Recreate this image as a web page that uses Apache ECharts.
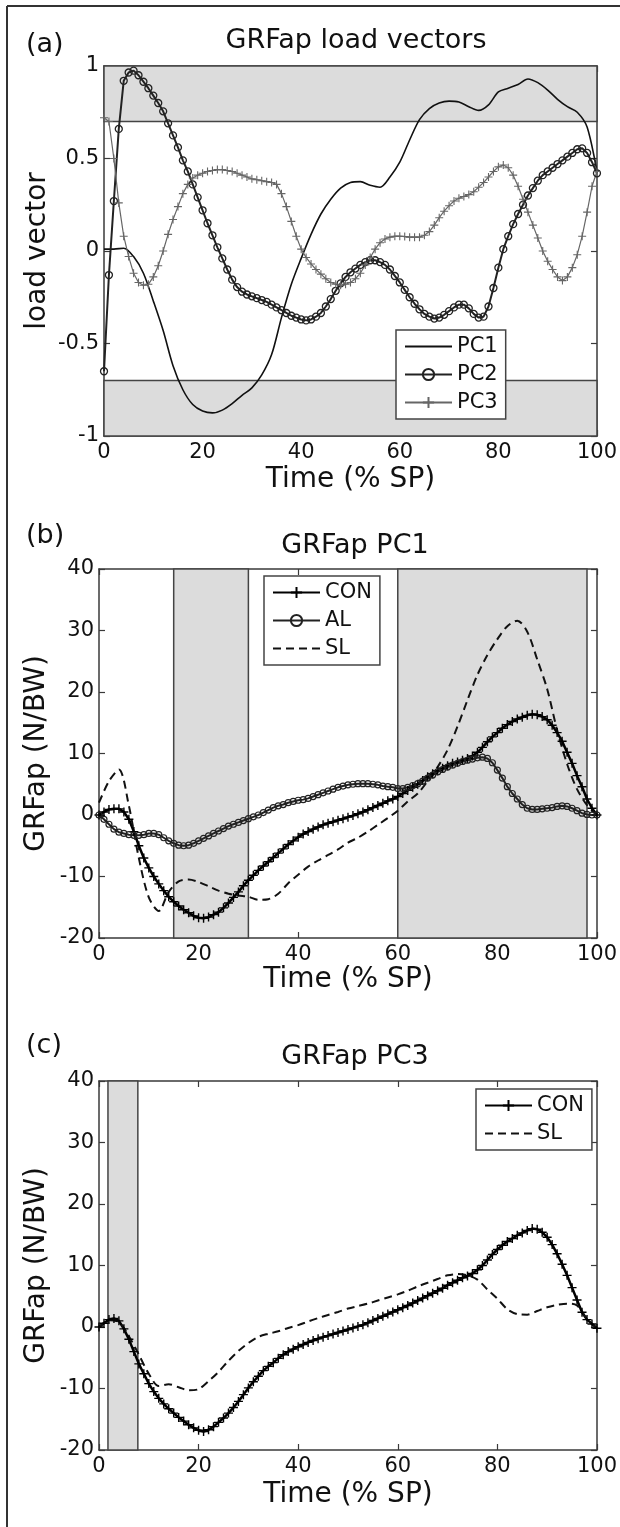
<!DOCTYPE html>
<html>
<head>
<meta charset="utf-8">
<script src="https://cdn.jsdelivr.net/npm/echarts@6/dist/echarts.min.js"></script>
<style>
  html, body { margin: 0; padding: 0; background: #fff; }
  #main { width: 620px; height: 1527px; }
</style>
</head>
<body>
<div id="main"></div>
<script>
// ---- data ----
// sample grids (% of stance phase)
var time1 = [];
for (var i = 0; i <= 100; i++) time1.push(i);
var time2 = [];
for (var j = 0; j <= 100; j += 2) time2.push(j);

// (a) load vectors
var pc1 = [0.01, 0.01, 0.015, -0.03, -0.12, -0.27, -0.43, -0.62, -0.75, -0.83,
  -0.865, -0.875, -0.86, -0.825, -0.78, -0.74, -0.67, -0.56, -0.36, -0.18,
  -0.04, 0.09, 0.2, 0.28, 0.34, 0.37, 0.375, 0.355, 0.345, 0.40,
  0.48, 0.60, 0.71, 0.77, 0.80, 0.81, 0.805, 0.78, 0.76, 0.79,
  0.86, 0.88, 0.90, 0.93, 0.91, 0.87, 0.82, 0.78, 0.75, 0.67, 0.43];
var pc2 = [-0.65, -0.13, 0.27, 0.66, 0.92, 0.965, 0.975, 0.95, 0.915, 0.88,
  0.84, 0.80, 0.755, 0.69, 0.625, 0.56, 0.49, 0.43, 0.36, 0.29,
  0.22, 0.15, 0.085, 0.02, -0.04, -0.10, -0.155, -0.195, -0.22, -0.235,
  -0.245, -0.255, -0.265, -0.275, -0.29, -0.305, -0.32, -0.335, -0.35, -0.36,
  -0.37, -0.375, -0.37, -0.355, -0.335, -0.30, -0.26, -0.215, -0.175, -0.14,
  -0.115, -0.095, -0.075, -0.06, -0.05, -0.05, -0.06, -0.075, -0.10, -0.135,
  -0.17, -0.21, -0.25, -0.285, -0.315, -0.34, -0.355, -0.365, -0.36, -0.345,
  -0.325, -0.305, -0.29, -0.29, -0.31, -0.34, -0.36, -0.355, -0.30, -0.20,
  -0.09, 0.01, 0.08, 0.145, 0.20, 0.25, 0.30, 0.34, 0.38, 0.41,
  0.43, 0.45, 0.47, 0.49, 0.51, 0.53, 0.55, 0.555, 0.53, 0.48, 0.42];
var pc3 = [0.72, 0.70, 0.50, 0.26, 0.08, -0.03, -0.12, -0.17, -0.185, -0.18,
  -0.14, -0.08, 0.0, 0.09, 0.17, 0.24, 0.31, 0.36, 0.395, 0.41,
  0.42, 0.43, 0.435, 0.44, 0.44, 0.435, 0.43, 0.42, 0.41, 0.40,
  0.39, 0.385, 0.38, 0.375, 0.37, 0.36, 0.31, 0.24, 0.16, 0.08,
  0.01, -0.035, -0.07, -0.10, -0.125, -0.15, -0.17, -0.18, -0.185, -0.18,
  -0.17, -0.15, -0.12, -0.075, -0.035, 0.01, 0.045, 0.065, 0.075, 0.08,
  0.08, 0.078, 0.075, 0.075, 0.075, 0.085, 0.105, 0.14, 0.18, 0.215,
  0.245, 0.27, 0.285, 0.295, 0.305, 0.32, 0.345, 0.37, 0.40, 0.43,
  0.455, 0.465, 0.45, 0.41, 0.35, 0.28, 0.21, 0.14, 0.07, 0.0,
  -0.055, -0.10, -0.14, -0.16, -0.14, -0.09, -0.02, 0.08, 0.21, 0.35, 0.43];
var bandsA = [[0.7, 1], [-1, -0.7]];

// (b) PC1 reconstructions
var conB = [0.0, 0.5, 0.9, 1.0, 1.0, 0.5, -0.7, -2.7, -5.0, -7.0,
  -8.6, -10.0, -11.2, -12.3, -13.3, -14.1, -14.8, -15.4, -15.9, -16.4,
  -16.7, -16.8, -16.6, -16.2, -15.8, -15.1, -14.3, -13.4, -12.5, -11.5,
  -10.6, -9.8, -9.0, -8.3, -7.6, -6.9, -6.2, -5.5, -4.8, -4.2,
  -3.6, -3.1, -2.7, -2.3, -1.95, -1.6, -1.35, -1.1, -0.85, -0.6,
  -0.35, -0.1, 0.2, 0.5, 0.85, 1.2, 1.55, 1.9, 2.3, 2.6,
  3.0, 3.5, 4.0, 4.5, 5.0, 5.6, 6.2, 6.7, 7.2, 7.6,
  8.0, 8.4, 8.6, 8.9, 9.2, 9.6, 10.2, 11.0, 11.9, 12.7,
  13.4, 14.1, 14.7, 15.2, 15.6, 15.9, 16.2, 16.4, 16.3, 16.0,
  15.5, 14.6, 13.4, 12.0, 10.2, 8.4, 6.4, 4.6, 2.6, 1.1, 0.0];
var alB = [0.0, -0.7, -1.5, -2.3, -2.8, -3.0, -3.2, -3.3, -3.3, -3.2,
  -3.0, -3.0, -3.2, -3.7, -4.2, -4.6, -4.9, -5.0, -4.9, -4.6,
  -4.2, -3.8, -3.4, -3.0, -2.6, -2.2, -1.8, -1.5, -1.2, -0.9,
  -0.6, -0.3, 0.0, 0.4, 0.8, 1.2, 1.5, 1.7, 2.0, 2.2,
  2.4, 2.5, 2.7, 3.0, 3.3, 3.6, 3.9, 4.2, 4.5, 4.7,
  4.9, 5.0, 5.1, 5.1, 5.1, 5.0, 4.9, 4.7, 4.6, 4.5,
  4.3, 4.3, 4.5, 4.8, 5.1, 5.5, 6.0, 6.5, 7.0, 7.4,
  7.8, 8.1, 8.4, 8.7, 8.9, 9.1, 9.3, 9.4, 9.2, 8.5,
  7.3, 6.0, 4.6, 3.5, 2.6, 1.7, 1.1, 0.9, 0.9, 1.0,
  1.1, 1.2, 1.4, 1.5, 1.4, 1.1, 0.7, 0.3, 0.1, 0.0, 0.0];
var slB = [2.0, 5.5, 7.4, 1.5, -7.0, -13.4, -15.6, -12.5, -10.8, -10.5,
  -10.9, -11.6, -12.3, -12.8, -13.1, -13.3, -13.8, -13.7, -12.8, -11.1,
  -9.7, -8.4, -7.4, -6.5, -5.6, -4.5, -3.7, -2.7, -1.6, -0.5,
  0.7, 2.2, 3.5, 5.5, 7.8, 10.6, 14.4, 18.7, 22.8, 26.0,
  28.6, 30.7, 31.6, 29.8, 25.3, 20.5, 13.8, 8.3, 4.2, 1.6, 0.0];
var bandsB = [[15, 30], [60, 98]];

// (c) PC3 reconstructions
var conC = [0.0, 0.6, 1.2, 1.4, 1.0, -0.3, -2.0, -4.0, -6.0, -7.6,
  -9.2, -10.5, -11.6, -12.5, -13.3, -14.0, -14.7, -15.3, -15.9, -16.4,
  -16.8, -17.0, -16.7, -16.2, -15.5, -14.8, -14.0, -13.1, -12.1, -11.0,
  -9.9, -8.9, -8.0, -7.1, -6.4, -5.8, -5.1, -4.5, -4.0, -3.6,
  -3.2, -2.85, -2.5, -2.2, -1.9, -1.65, -1.4, -1.15, -0.9, -0.65,
  -0.4, -0.15, 0.1, 0.35, 0.7, 1.05, 1.4, 1.75, 2.1, 2.45,
  2.8, 3.15, 3.5, 3.9, 4.3, 4.7, 5.1, 5.5, 5.9, 6.3,
  6.8, 7.2, 7.6, 8.0, 8.3, 8.7, 9.3, 10.0, 10.9, 11.8,
  12.6, 13.3, 13.9, 14.4, 14.9, 15.3, 15.7, 16.0, 15.9, 15.4,
  14.6, 13.4, 11.9, 10.2, 8.4, 6.4, 4.4, 2.4, 1.2, 0.5, -0.2];
var slC = [0.0, 1.1, 0.8, -1.5, -4.5, -7.6, -9.6, -9.3, -9.8, -10.3,
  -10.1, -8.8, -7.3, -5.5, -3.9, -2.6, -1.6, -1.1, -0.7, -0.15,
  0.3, 0.9, 1.45, 1.95, 2.45, 3.0, 3.4, 3.8, 4.3, 4.8,
  5.3, 5.9, 6.6, 7.2, 7.8, 8.4, 8.6, 8.4, 7.7, 6.1,
  4.6, 2.9, 2.1, 2.0, 2.6, 3.2, 3.6, 3.8, 3.5, 1.3, -0.2];
var bandsC = [[1.8, 7.8]];

// ---- helpers ----
var FONT = 'DejaVu Sans';
var FRAME = '#3a3a3a';
var PLUS = 'path://M5,0 L5,10 M0,5 L10,5';

function pts(xs, ys) {
  return ys.map(function (v, k) { return [xs[k], v]; });
}

var lineFrame = { show: true, onZero: false, lineStyle: { color: FRAME, width: 1.5 } };
var tickIn = { show: true, inside: true, length: 6, lineStyle: { color: FRAME, width: 1.2 } };

function xAxes(grid, name, gap) {
  return [{
    type: 'value', gridIndex: grid, min: 0, max: 100, interval: 20,
    name: name, nameLocation: 'middle', nameGap: gap, nameMoveOverlap: false,
    nameTextStyle: { fontFamily: FONT, fontSize: 28, color: '#111' },
    axisLine: lineFrame, axisTick: tickIn,
    axisLabel: { fontFamily: FONT, fontSize: 21, color: '#111', margin: 6 },
    splitLine: { show: false }
  }, {
    type: 'value', gridIndex: grid, min: 0, max: 100, interval: 20, position: 'top',
    axisLine: lineFrame, axisTick: tickIn,
    axisLabel: { show: false }, splitLine: { show: false }
  }];
}

function yAxes(grid, min, max, step, name, gap) {
  return [{
    type: 'value', gridIndex: grid, min: min, max: max, interval: step,
    name: name, nameLocation: 'middle', nameGap: gap, nameMoveOverlap: false,
    nameTextStyle: { fontFamily: FONT, fontSize: 28, color: '#111' },
    axisLine: lineFrame, axisTick: tickIn,
    axisLabel: { fontFamily: FONT, fontSize: 21, color: '#111', margin: 5 },
    splitLine: { show: false }
  }, {
    type: 'value', gridIndex: grid, min: min, max: max, interval: step, position: 'right',
    axisLine: lineFrame, axisTick: tickIn,
    axisLabel: { show: false }, splitLine: { show: false }
  }];
}

function bandSeries(axis, bands, dir, first) {
  return {
    type: 'line', xAxisIndex: axis, yAxisIndex: axis, z: 1, silent: true,
    data: [first], symbol: 'none', lineStyle: { width: 0 },
    markArea: {
      silent: true,
      itemStyle: { color: '#dcdcdc', borderColor: '#444', borderWidth: 1.5 },
      data: bands.map(function (b) {
        return dir === 'y' ? [{ yAxis: b[0] }, { yAxis: b[1] }] : [{ xAxis: b[0] }, { xAxis: b[1] }];
      })
    }
  };
}

function lineSeries(name, axis, data, opt) {
  return {
    name: name, type: 'line', xAxisIndex: axis, yAxisIndex: axis, data: data, z: 3,
    symbol: opt.symbol || 'none', symbolSize: opt.size || 6, showSymbol: !!opt.symbol,
    showAllSymbol: true, smooth: opt.smooth || false,
    lineStyle: { color: opt.color, width: opt.width, type: opt.dash || 'solid' },
    itemStyle: { color: 'rgba(0,0,0,0)', borderColor: opt.color, borderWidth: opt.bw || 1.2 },
    emphasis: { disabled: true }
  };
}

// legend entries for plain lines get no marker
var noMark = { color: 'rgba(0,0,0,0)', borderColor: 'rgba(0,0,0,0)', borderWidth: 0 };

function legend(items, left, top) {
  return {
    data: items.map(function (it) {
      return it.plain ? { name: it.name, itemStyle: noMark } : { name: it.name };
    }),
    left: left, top: top, orient: 'vertical', selectedMode: false,
    backgroundColor: '#fff', borderColor: '#444', borderWidth: 1.5, borderRadius: 0,
    padding: [6, 8, 6, 8], itemGap: 7, itemWidth: 47, itemHeight: 14,
    textStyle: { fontFamily: FONT, fontSize: 21, color: '#111' }
  };
}

var chart = echarts.init(document.getElementById('main'));

var titleStyle = { fontFamily: FONT, fontSize: 27, fontWeight: 'normal', color: '#111' };
var tagStyle = { fontFamily: FONT, fontSize: 27, fontWeight: 'normal', color: '#111' };

var option = {
  backgroundColor: '#fff',
  animation: false,
  title: [
    { text: '(a)', left: 21, top: 26, textStyle: tagStyle },
    { text: 'GRFap load vectors', left: 351, top: 22, textAlign: 'center', textStyle: titleStyle },
    { text: '(b)', left: 21, top: 517, textStyle: tagStyle },
    { text: 'GRFap PC1', left: 350, top: 527, textAlign: 'center', textStyle: titleStyle },
    { text: '(c)', left: 21, top: 1027, textStyle: tagStyle },
    { text: 'GRFap PC3', left: 350, top: 1038, textAlign: 'center', textStyle: titleStyle }
  ],
  grid: [
    { left: 104, top: 66, width: 495, height: 370 },
    { left: 99, top: 569, width: 501, height: 369 },
    { left: 99, top: 1081, width: 501, height: 369 }
  ],
  xAxis: [].concat(xAxes(0, 'Time (% SP)', 30), xAxes(1, 'Time (% SP)', 28), xAxes(2, 'Time (% SP)', 31)),
  yAxis: [].concat(yAxes(0, -1, 1, 0.5, 'load vector', 52), yAxes(1, -20, 40, 10, 'GRFap (N/BW)', 48), yAxes(2, -20, 40, 10, 'GRFap (N/BW)', 48)),
  legend: [
    legend([{ name: 'PC1', plain: true }, { name: 'PC2' }, { name: 'PC3' }], 396, 330),
    legend([{ name: 'CON' }, { name: 'AL' }, { name: 'SL', plain: true }], 264, 576),
    legend([{ name: 'CON' }, { name: 'SL', plain: true }], 476, 1089)
  ],
  graphic: [
    { type: 'line', shape: { x1: 7, y1: 6, x2: 620, y2: 6 }, style: { stroke: '#333', lineWidth: 2 } },
    { type: 'line', shape: { x1: 7, y1: 6, x2: 7, y2: 1527 }, style: { stroke: '#333', lineWidth: 2 } }
  ],
  series: [
    bandSeries(0, bandsA, 'y', [0, 0]),
    lineSeries('PC1', 0, pts(time2, pc1), { color: '#111', width: 1.6, smooth: 0.3 }),
    lineSeries('PC2', 0, pts(time1, pc2), { color: '#222', width: 2, symbol: 'circle', size: 7, bw: 1.3 }),
    lineSeries('PC3', 0, pts(time1, pc3), { color: '#666', width: 1.2, symbol: PLUS, size: 8, bw: 1.1 }),

    bandSeries(2, bandsB, 'x', [0, 0]),
    lineSeries('CON', 2, pts(time1, conB), { color: '#000', width: 2.5, symbol: PLUS, size: 9, bw: 1.4 }),
    lineSeries('AL', 2, pts(time1, alB), { color: '#222', width: 2, symbol: 'circle', size: 6, bw: 1.2 }),
    lineSeries('SL', 2, pts(time2, slB), { color: '#111', width: 2, dash: [8, 5], smooth: 0.3 }),

    bandSeries(4, bandsC, 'x', [0, 0]),
    lineSeries('CON', 4, pts(time1, conC), { color: '#000', width: 2.5, symbol: PLUS, size: 9, bw: 1.4 }),
    lineSeries('SL', 4, pts(time2, slC), { color: '#111', width: 2, dash: [8, 5], smooth: 0.3 })
  ]
};

chart.setOption(option);
</script>
</body>
</html>
